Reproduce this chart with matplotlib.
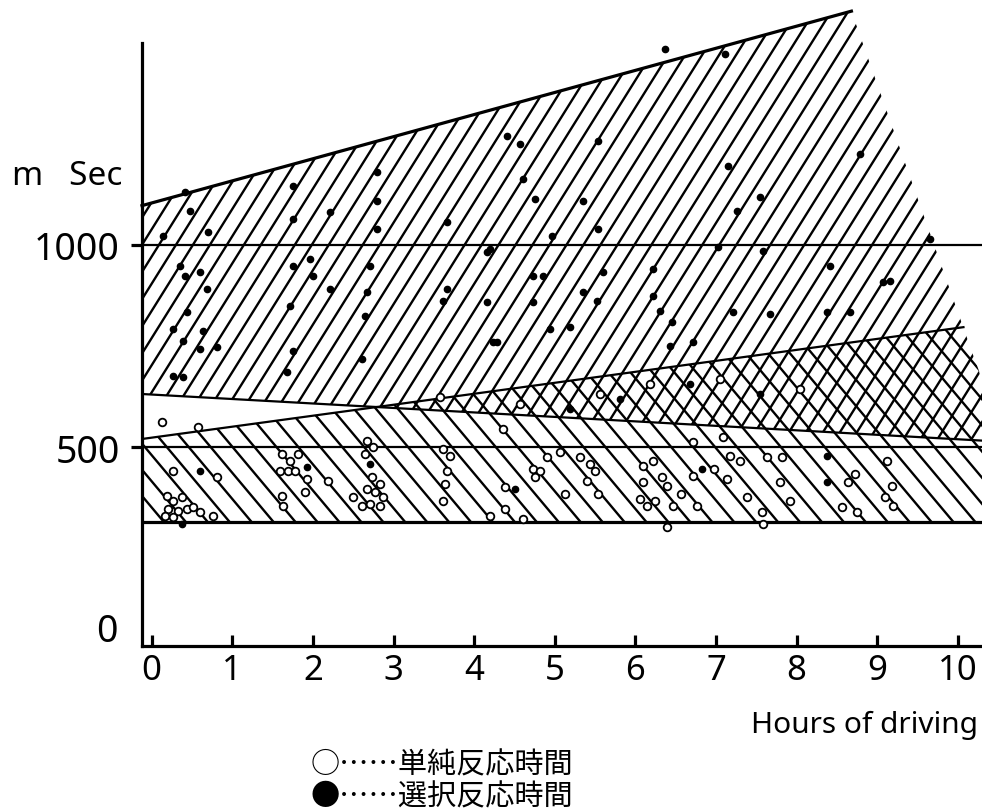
import numpy as np
import matplotlib.pyplot as plt
from matplotlib.patches import Polygon
from matplotlib.collections import LineCollection

plt.rcParams['font.family'] = ['Noto Sans', 'Noto Sans CJK JP', 'DejaVu Sans']

# band edges (hours, msec)
choice_top_x = [-0.12, 8.68]
choice_top_y = [1097, 1577]
choice_bot_x = [-0.12, 10.57]
choice_bot_y = [632, 514]
simple_top_x = [-0.12, 10.07]
simple_top_y = [521, 797]
simple_bot_y = 316
ref_levels = [500, 1000]

# choice reaction time (filled dots)
choice_x = [0.14, 0.41, 0.48, 0.70, 0.35, 0.41, 0.60, 0.69, 0.44, 0.26, 0.64, 0.39, 0.60, 0.81, 0.26, 0.39,
            1.75, 1.75, 1.75, 1.96, 2.00, 2.21, 1.72, 1.75, 1.68, 2.21,
            2.80, 2.80, 2.80, 2.71, 2.67, 2.65, 2.61,
            3.66, 3.66, 3.61, 4.16, 4.16, 4.23, 4.20, 4.28,
            4.41, 4.57, 4.61, 4.76, 4.73, 4.86, 4.73, 4.94, 4.97,
            5.19, 5.35, 5.35, 5.52, 5.54, 5.54, 5.60,
            6.37, 6.22, 6.22, 6.31, 6.46, 6.72, 6.43,
            7.11, 7.15, 7.55, 7.26, 7.21, 7.67, 7.03, 7.58,
            8.79, 8.41, 8.66, 8.38, 9.66, 9.16, 9.07,
            0.60, 0.38, 1.93, 2.71, 4.51, 8.38, 8.38, 6.83, 5.81, 6.68, 7.55, 5.19]
choice_y = [1022, 1130, 1083, 1032, 948, 923, 933, 891, 834, 792, 787, 763, 743, 748, 676, 674,
            1145, 1064, 948, 965, 923, 891, 849, 738, 686, 1081,
            1180, 1108, 1039, 948, 884, 824, 718,
            1056, 891, 861, 982, 859, 760, 990, 760,
            1269, 1249, 1162, 1113, 923, 923, 859, 792, 1022,
            797, 1108, 884, 861, 1256, 1039, 933,
            1483, 940, 874, 837, 809, 760, 750,
            1471, 1194, 1118, 1083, 834, 829, 995, 985,
            1224, 948, 834, 834, 1014, 911, 908,
            442, 311, 452, 459, 397, 479, 415, 447, 619, 656, 632, 595]

# simple reaction time (open circles)
simple_x = [0.13, 0.57, 0.26, 0.81, 0.19, 0.26, 0.38, 0.20, 0.33, 0.44, 0.51, 0.17, 0.26, 0.60, 0.76,
            1.62, 1.72, 1.82, 1.59, 1.69, 1.78, 1.93, 1.90, 1.62, 1.63, 2.19,
            2.67, 2.74, 2.65, 2.73, 2.83, 2.67, 2.77, 2.87, 2.50, 2.61, 2.71, 2.83,
            3.61, 3.70, 3.66, 3.64, 3.61, 4.20, 4.36, 4.38, 4.38, 4.61,
            4.73, 4.82, 4.76, 4.90, 5.06, 5.13, 5.40, 5.44, 5.31, 5.54, 5.50,
            6.10, 6.22, 6.10, 6.06, 6.14, 6.24, 6.39, 6.33, 6.47, 6.39, 6.56, 6.72, 6.77, 6.72,
            6.97, 7.14, 7.17, 7.30, 7.38, 7.57, 7.58, 7.80, 7.82, 7.63, 7.92, 7.09,
            8.56, 8.64, 8.72, 8.75, 9.10, 9.20, 9.18, 9.12,
            3.58, 4.57, 5.56, 6.18, 7.05, 8.04]
simple_y = [563, 550, 442, 427, 380, 368, 378, 348, 343, 348, 353, 331, 328, 341, 331,
            484, 466, 484, 442, 442, 442, 422, 390, 380, 355, 417,
            516, 501, 484, 427, 410, 397, 390, 378, 378, 355, 360, 355,
            496, 479, 442, 410, 368, 331, 545, 402, 348, 323,
            447, 442, 427, 476, 489, 385, 417, 459, 476, 385, 442,
            454, 466, 415, 373, 355, 368, 405, 427, 355, 304, 385, 429, 355, 513,
            447, 422, 479, 466, 378, 341, 311, 415, 476, 476, 368, 526,
            353, 415, 434, 341, 378, 355, 405, 466,
            624, 607, 632, 656, 669, 644]

xticks = list(range(11))
legend_lines = ['○……単純反応時間', '●……選択反応時間']
cjk = ['Noto Sans CJK JP', 'DejaVu Sans']

W, H = 982, 812
fig = plt.figure(figsize=(W / 100, H / 100), dpi=100)
ax = fig.add_axes([142 / W, (H - 647) / H, (W - 142) / W, 647 / H])
ax.set_xlim(-0.12, 10.30)
ax.set_ylim(10, 1607)
ax.patch.set_alpha(0)
ax.spines['top'].set_visible(False)
ax.spines['right'].set_visible(False)
ax.spines['left'].set_bounds(10, 1498)
ax.spines['left'].set_linewidth(2.3)
ax.spines['bottom'].set_linewidth(2.3)

ax.set_xticks(xticks)
ax.set_xticklabels([str(t) for t in xticks])
ax.tick_params(axis='x', direction='in', length=8, width=2.3, labelsize=25, pad=5)
ax.set_yticks(ref_levels)
ax.set_yticklabels([str(v) for v in ref_levels])
ax.tick_params(axis='y', direction='out', length=8, width=2.3, labelsize=27, pad=8)

# the hatch regions end on a slanted cut through the apex and the end of the simple top line
slope = (simple_top_y[1] - choice_top_y[1]) / (simple_top_x[1] - choice_top_x[1])
cut_x_bot = choice_top_x[1] + (simple_bot_y - choice_top_y[1]) / slope

choice_poly = [(choice_bot_x[0], choice_bot_y[0]), (choice_top_x[0], choice_top_y[0]),
               (choice_top_x[1], choice_top_y[1]), (choice_bot_x[1], choice_bot_y[1])]
simple_poly = [(simple_top_x[0], simple_bot_y), (cut_x_bot, simple_bot_y),
               (simple_top_x[1], simple_top_y[1]), (simple_top_x[0], simple_top_y[0])]


def hatch(verts, angle, step, lw):
    # angle/step are in screen pixels, lines are then mapped back to data space
    patch = Polygon(verts, closed=True, transform=ax.transData)
    pts = ax.transData.transform(np.array(verts))
    inv = ax.transData.inverted()
    th = np.deg2rad(angle)
    d = np.array([np.cos(th), np.sin(th)])
    n = np.array([-d[1], d[0]])
    proj = pts @ n
    segs = []
    for o in np.arange(proj.min(), proj.max() + step, step):
        seg = np.array([o * n - 3000 * d, o * n + 3000 * d])
        segs.append(inv.transform(seg))
    lc = LineCollection(segs, colors='black', linewidths=lw)
    lc.set_clip_path(patch)
    ax.add_collection(lc, autolim=False)


hatch(choice_poly, 58, 14.4, 1.7)   # choice band: ///
hatch(simple_poly, -50, 16.8, 1.7)  # simple band: \\\

for lv in ref_levels:
    ax.axhline(lv, color='black', lw=1.6)
ax.axhline(simple_bot_y, color='black', lw=2.3)
ax.plot(choice_top_x, choice_top_y, color='black', lw=2.3, clip_on=False)
ax.plot(choice_bot_x, choice_bot_y, color='black', lw=1.6)
ax.plot(simple_top_x, simple_top_y, color='black', lw=1.6)

ax.plot(simple_x, simple_y, 'o', ms=5.5, mfc='white', mec='black', mew=1.3, zorder=5)
ax.plot(choice_x, choice_y, 'o', ms=4.5, mfc='black', mec='black', zorder=5, clip_on=False)

fig.text(122 / W, 1 - 185 / H, 'm   Sec', ha='right', va='baseline', fontsize=24)
fig.text(118 / W, 1 - 642 / H, '0', ha='right', va='baseline', fontsize=27)
fig.text(978 / W, 1 - 733 / H, 'Hours of driving', ha='right', va='baseline', fontsize=21.5)
fig.text(311 / W, 1 - 765 / H, legend_lines[0], ha='left', va='center', fontsize=21, family=cjk)
fig.text(311 / W, 1 - 797 / H, legend_lines[1], ha='left', va='center', fontsize=21, family=cjk)

fig.savefig('out.png', dpi=100)
